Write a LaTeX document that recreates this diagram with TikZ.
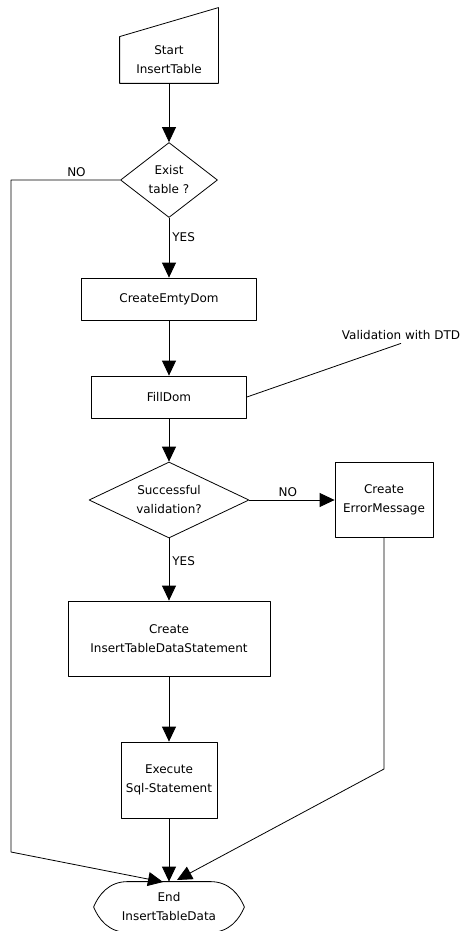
\documentclass[tikz,border=0pt]{standalone}
\usepackage{fontspec}
\setmainfont{DejaVu Sans}
\usetikzlibrary{arrows.meta,shapes.geometric}

\begin{document}
\begin{tikzpicture}[x=1pt, y=-1pt, font=\fontsize{12}{19}\selectfont, line width=0.8pt, line join=round, >={Triangle[length=15pt,width=14pt]},
		box/.style={draw, rectangle, align=center, inner sep=0pt},
		decision/.style={draw, diamond, align=center, inner sep=0pt},
		edgelabel/.style={inner sep=3pt}]
			\useasboundingbox (0,0) rectangle (465,931);
			% nodes
			\node[align=center, minimum width=98, minimum height=46, inner sep=0pt] (start) at (169,60) {Start\\InsertTable};
			\draw (start.south west) -- (start.south east) -- ([yshift=29pt]start.north east) -- (start.north west) -- cycle;
			\node[decision, aspect=1.3, minimum width=97, minimum height=75] (exist) at (169,180) {Exist\\table ?};
			\node[box, minimum width=175, minimum height=42] (emptydom) at (169,299) {CreateEmtyDom};
			\node[box, minimum width=155, minimum height=42] (filldom) at (169,397) {FillDom};
			\node (dtd) at (401,335) {Validation with DTD};
			\node[decision, aspect=2.1, minimum width=160, minimum height=76] (valid) at (169,500) {Successful\\validation?};
			\node[box, minimum width=98, minimum height=75] (errmsg) at (384,500) {Create\\ErrorMessage};
			\node[box, minimum width=202, minimum height=75] (statement) at (169,638.5) {Create\\InsertTableDataStatement};
			\node[box, minimum width=96, minimum height=76] (execute) at (169,780) {Execute\\Sql-Statement};
			\node[align=center, minimum width=150, minimum height=50, inner sep=0pt] (end) at (169,907) {End\\InsertTableData};
			\draw ([xshift=34pt]end.north west) -- ([xshift=-34pt]end.north east)
				.. controls ([xshift=-15pt]end.north east) and ([xshift=-5pt,yshift=12pt]end.east) .. (end.east)
				.. controls ([xshift=-5pt,yshift=-12pt]end.east) and ([xshift=-15pt]end.south east) .. ([xshift=-34pt]end.south east)
				-- ([xshift=34pt]end.south west)
				.. controls ([xshift=15pt]end.south west) and ([xshift=5pt,yshift=-12pt]end.west) .. (end.west)
				.. controls ([xshift=5pt,yshift=12pt]end.west) and ([xshift=15pt]end.north west) .. cycle;
			% connectors
			\coordinate (nocorner) at (11,852);
			\coordinate (endleft) at (163,882);
			\coordinate (errcorner) at (384,769);
			\coordinate (endright) at (177,880);
			\draw[->] (start.south) -- (exist.north);
			\draw[->] (exist.west) -| node[edgelabel, above, pos=0.2] (noexist) {NO} (nocorner) -- (endleft);
			\draw[->] (exist.south) -- node[edgelabel, right, pos=0.33] (yesexist) {YES} (emptydom.north);
			\draw[->] (emptydom.south) -- (filldom.north);
			\draw (filldom.east) -- (dtd.south);
			\draw[->] (filldom.south) -- (valid.north);
			\draw[->] (valid.east) -- node[edgelabel, above, pos=0.45] (novalid) {NO} (errmsg.west);
			\draw[->] (valid.south) -- node[edgelabel, right, pos=0.37] (yesvalid) {YES} (statement.north);
			\draw[->] (statement.south) -- (execute.north);
			\draw[->] (execute.south) -- (end.north);
			\draw[->] (errmsg.south) -- (errcorner) -- (endright);
		\end{tikzpicture}
\end{document}
